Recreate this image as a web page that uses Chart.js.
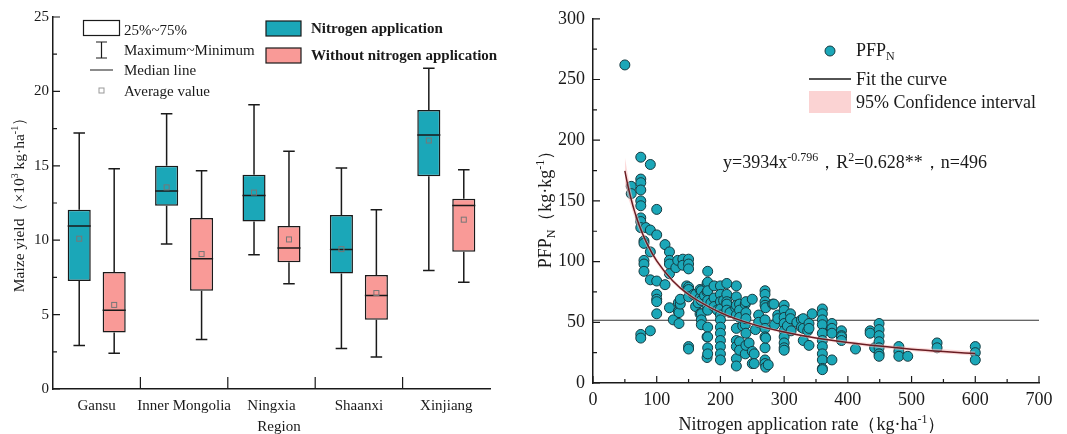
<!DOCTYPE html>
<html>
<head>
<meta charset="utf-8">
<script src="https://cdn.jsdelivr.net/npm/chart.js@4/dist/chart.umd.min.js"></script>
<style>
  html, body { margin: 0; padding: 0; background: #fff; }
  #wrap { position: relative; width: 1067px; height: 434px; overflow: hidden; }
  #boxCanvas { position: absolute; left: 0; top: 0; }
  #pfpCanvas { position: absolute; left: 530px; top: 0; }
</style>
</head>
<body>
<div id="wrap">
  <canvas id="boxCanvas" width="530" height="434"></canvas>
  <canvas id="pfpCanvas" width="537" height="434"></canvas>
</div>
<script>
// left panel: maize yield (x10^3 kg/ha) by region
const regions = ["Gansu", "Inner Mongolia", "Ningxia", "Shaanxi", "Xinjiang"];

// with nitrogen
const nMax  = [17.2, 18.5, 19.1, 14.85, 21.55];
const nQ3   = [12.05, 15.0, 14.4, 11.7, 18.75];
const nMed  = [10.95, 13.3, 13.0, 9.38, 17.07];
const nQ1   = [7.25, 12.32, 11.25, 7.77, 14.29];
const nMin  = [2.92, 9.74, 9.03, 2.73, 7.97];
const nMean = [10.1, 13.55, 13.2, 9.4, 16.7];

// without nitrogen
const ckMax  = [14.8, 14.67, 15.97, 12.05, 14.74];
const ckQ3   = [7.86, 11.49, 10.95, 7.66, 12.79];
const ckMed  = [5.29, 8.76, 9.48, 6.29, 12.34];
const ckQ1   = [3.79, 6.61, 8.51, 4.66, 9.23];
const ckMin  = [2.4, 3.32, 7.08, 2.15, 7.17];
const ckMean = [5.65, 9.07, 10.05, 6.45, 11.38];

// right panel: PFPN vs nitrogen rate
const nRate = [
  50, 60, 60,
  75, 75, 75, 75, 75, 75, 75, 75, 75, 75, 75,
  80, 80, 80, 80, 80, 83,
  90, 90, 90, 90, 90,
  100, 100, 100, 100, 100, 100, 100,
  113, 113, 120, 120, 120, 120, 120, 126, 130, 133, 134, 134, 135, 135, 137, 137, 141, 141, 147,
  150, 150, 150, 150, 150, 150, 150, 150,
  158, 161, 161, 165, 168, 168, 168, 170, 170, 170, 170, 170, 175,
  179, 179, 179, 179, 179,
  180, 180, 180, 180, 180, 180, 180, 180, 180, 185,
  190, 190, 190, 195,
  200, 200, 200, 200, 200, 200, 200, 200, 200, 200, 200, 200, 205,
  210, 210, 210, 210, 210, 215,
  224, 225, 225, 225, 225, 225, 225, 225, 225, 225,
  230, 230, 230, 230, 230, 235,
  239, 239, 239, 240, 240, 240, 240, 240, 245, 250, 250, 250, 253, 253, 255, 260, 260,
  270, 270, 270, 270, 270, 270, 270, 270, 270, 270, 271, 271, 271, 275, 282, 284, 285, 290, 290,
  300, 300, 300, 300, 300, 300, 300, 300, 300, 305, 310, 310, 311, 320,
  327, 327, 330, 330, 330, 337, 339, 339, 339, 344,
  360, 360, 360, 360, 360, 360, 360, 360, 360, 360, 360,
  374, 375, 375, 375, 375, 390, 390, 390, 390, 412, 435, 435, 442,
  449, 449, 449, 449, 449, 449, 449,
  480, 480, 480, 494, 540, 540, 600, 600, 600
];
const pfpN = [
  262, 162, 156,
  186, 168, 165, 159, 150, 146, 136, 133, 128, 40, 37,
  117, 115, 101, 98, 92, 128,
  180, 126, 108, 85, 43,
  143, 122, 84, 73, 69, 67, 57,
  114, 81, 108, 101, 98, 90, 62, 52, 95, 101, 66, 59, 58, 49, 65, 69, 102, 97, 80,
  102, 98, 94, 79, 77, 71, 30, 28,
  73, 73, 63, 66, 77, 70, 57, 76, 68, 57, 52, 48, 72,
  82, 75, 62, 38, 21,
  92, 83, 76, 68, 60, 46, 38, 29, 24, 66,
  80, 70, 63, 60,
  80, 73, 67, 61, 56, 52, 46, 41, 35, 30, 24, 19, 68,
  82, 73, 67, 65, 60, 58,
  62, 80, 71, 64, 56, 45, 35, 30, 20, 14,
  65, 60, 54, 34, 27, 47,
  65, 48, 24, 67, 58, 53, 41, 31, 33, 69, 26, 16, 24, 16, 44, 56, 50,
  76, 73, 67, 64, 52, 45, 38, 29, 19, 16, 62, 37, 13, 15, 65, 65, 48, 56, 53,
  64, 60, 54, 49, 43, 38, 33, 29, 27, 47, 57, 53, 43, 50,
  52, 46, 53, 45, 35, 43, 49, 45, 31, 57,
  61, 57, 52, 48, 41, 35, 30, 24, 19, 12, 11,
  45, 49, 45, 41, 19, 43, 39, 38, 35, 28, 43, 41, 29,
  49, 44, 39, 34, 29, 24, 22,
  30, 26, 22, 22, 33, 29, 30, 25, 19
];

// fitted curve y = 3934x^-0.796 read at these rates, with 95% band
const fitRate  = [50, 55, 60, 65, 70, 75, 85, 100, 125, 150, 200, 250, 300, 350, 400, 450, 500, 550, 600];
const fitPfp   = [174.8, 162.0, 151.2, 141.8, 133.7, 126.5, 114.6, 100.6, 84.3, 72.9, 58.0, 48.5, 42.0, 37.1, 33.4, 30.4, 27.9, 25.9, 24.2];
const ciUpper  = [186, 171, 158, 147.5, 138.5, 130.5, 117.5, 103, 86, 74.5, 59.3, 49.7, 43.2, 38.4, 34.8, 31.9, 29.5, 27.7, 26.0];
const ciLower  = [164, 153, 145, 136.5, 129, 122.5, 111.7, 98.3, 82.6, 71.4, 56.8, 47.3, 40.8, 35.8, 32.0, 28.9, 26.4, 24.2, 22.4];
const meanLine = 51.7;

const FONT = '"Liberation Serif", "Times New Roman", serif';
const TEAL = "#1ba7b8";
const PINK = "#f99a97";
const INK = "#1a1a1a";

// draw text with sub/superscript pieces, y is the visual middle
function drawRich(ctx, parts, x, y, size, align, angle, bold) {
  ctx.save();
  ctx.translate(x, y);
  ctx.rotate(angle || 0);
  const small = Math.round(size * 0.65);
  const w = (bold ? "bold " : "");
  let total = 0;
  parts.forEach(p => {
    ctx.font = w + (p.sup || p.sub ? small : size) + "px " + FONT;
    total += ctx.measureText(p.t).width;
  });
  let cx = align === "center" ? -total / 2 : (align === "right" ? -total : 0);
  const base = size * 0.33;
  ctx.fillStyle = INK;
  ctx.textAlign = "left";
  ctx.textBaseline = "alphabetic";
  parts.forEach(p => {
    ctx.font = w + (p.sup || p.sub ? small : size) + "px " + FONT;
    const dy = p.sup ? -size * 0.38 : (p.sub ? size * 0.22 : 0);
    ctx.fillText(p.t, cx, base + dy);
    cx += ctx.measureText(p.t).width;
  });
  ctx.restore();
}

// inward tick marks
function inTicks(chart, scale, values, len, vertical) {
  const ctx = chart.ctx;
  const a = chart.chartArea;
  ctx.save();
  ctx.strokeStyle = INK;
  ctx.lineWidth = 1.2;
  ctx.beginPath();
  values.forEach(v => {
    const p = scale.getPixelForValue(v);
    if (vertical) { ctx.moveTo(a.left, p); ctx.lineTo(a.left + len, p); }
    else { ctx.moveTo(p, a.bottom); ctx.lineTo(p, a.bottom - len); }
  });
  ctx.stroke();
  ctx.restore();
}

// ---------- left: box plot ----------
const boxStats = [
  { max: nMax, med: nMed, mean: nMean, min: nMin, q1: nQ1, q3: nQ3 },
  { max: ckMax, med: ckMed, mean: ckMean, min: ckMin, q1: ckQ1, q3: ckQ3 }
];

const boxExtras = {
  id: "boxExtras",
  afterDatasetsDraw(chart) {
    const ctx = chart.ctx;
    const y = chart.scales.y;
    ctx.save();
    boxStats.forEach((st, di) => {
      const meta = chart.getDatasetMeta(di);
      meta.data.forEach((bar, i) => {
        const x = bar.x, hw = bar.width / 2, cap = bar.width * 0.25;
        const yMax = y.getPixelForValue(st.max[i]);
        const yMin = y.getPixelForValue(st.min[i]);
        ctx.strokeStyle = INK;
        ctx.lineWidth = 1.5;
        ctx.beginPath();
        ctx.moveTo(x, yMax); ctx.lineTo(x, y.getPixelForValue(st.q3[i]));
        ctx.moveTo(x, y.getPixelForValue(st.q1[i])); ctx.lineTo(x, yMin);
        ctx.moveTo(x - cap, yMax); ctx.lineTo(x + cap, yMax);
        ctx.moveTo(x - cap, yMin); ctx.lineTo(x + cap, yMin);
        ctx.moveTo(x - hw, y.getPixelForValue(st.med[i])); ctx.lineTo(x + hw, y.getPixelForValue(st.med[i]));
        ctx.stroke();
        const my = y.getPixelForValue(st.mean[i]);
        ctx.strokeStyle = "#777";
        ctx.lineWidth = 1;
        ctx.strokeRect(x - 2.5, my - 2.5, 5, 5);
      });
    });
    ctx.restore();
  },
  afterDraw(chart) {
    const ctx = chart.ctx;
    const xs = chart.scales.x;
    inTicks(chart, chart.scales.y, [0, 5, 10, 15, 20, 25], 7, true);
    inTicks(chart, chart.scales.y, [2.5, 7.5, 12.5, 17.5, 22.5], 4, true);
    const bounds = [];
    for (let i = 0; i < regions.length - 1; i++) {
      bounds.push((xs.getPixelForTick(i) + xs.getPixelForTick(i + 1)) / 2);
    }
    ctx.save();
    ctx.strokeStyle = INK;
    ctx.lineWidth = 1.2;
    ctx.beginPath();
    bounds.forEach(b => { ctx.moveTo(b, chart.chartArea.bottom); ctx.lineTo(b, chart.chartArea.bottom - 12); });
    ctx.stroke();

    // legend
    ctx.lineWidth = 1.2;
    ctx.strokeStyle = INK;
    ctx.strokeRect(83.5, 20.5, 36, 15);
    ctx.beginPath();
    ctx.moveTo(101.5, 42); ctx.lineTo(101.5, 58);
    ctx.moveTo(96, 42); ctx.lineTo(107, 42);
    ctx.moveTo(96, 58); ctx.lineTo(107, 58);
    ctx.moveTo(90, 70); ctx.lineTo(113, 70);
    ctx.stroke();
    ctx.strokeStyle = "#999";
    ctx.lineWidth = 1;
    ctx.strokeRect(99, 88, 5, 5);
    ctx.fillStyle = TEAL;
    ctx.fillRect(266, 21, 35, 15);
    ctx.fillStyle = PINK;
    ctx.fillRect(266, 48, 35, 15);
    ctx.strokeStyle = INK;
    ctx.lineWidth = 1.2;
    ctx.strokeRect(266, 21, 35, 15);
    ctx.strokeRect(266, 48, 35, 15);
    ctx.restore();
    drawRich(ctx, [{ t: "25%~75%" }], 124, 30, 15, "left");
    drawRich(ctx, [{ t: "Maximum~Minimum" }], 124, 50, 15, "left");
    drawRich(ctx, [{ t: "Median line" }], 124, 70, 15, "left");
    drawRich(ctx, [{ t: "Average value" }], 124, 91, 15, "left");
    drawRich(ctx, [{ t: "Nitrogen application" }], 311, 28, 15, "left", 0, true);
    drawRich(ctx, [{ t: "Without nitrogen application" }], 311, 55, 15, "left", 0, true);

    // axis titles
    drawRich(ctx, [{ t: "Maize yield（×10" }, { t: "3", sup: 1 }, { t: " kg·ha" }, { t: "-1", sup: 1 }, { t: "）" }],
      19, 201, 15.5, "center", -Math.PI / 2);
    drawRich(ctx, [{ t: "Region" }], 279, 426, 15, "center");
  }
};

new Chart(document.getElementById("boxCanvas"), {
  type: "bar",
  data: {
    labels: regions,
    datasets: [
      { label: "Nitrogen application", data: nQ1.map((v, i) => [v, nQ3[i]]), backgroundColor: TEAL },
      { label: "Without nitrogen application", data: ckQ1.map((v, i) => [v, ckQ3[i]]), backgroundColor: PINK }
    ]
  },
  options: {
    responsive: false,
    devicePixelRatio: 1,
    animation: false,
    layout: { padding: { left: 0, top: 17, right: 40, bottom: 0 } },
    datasets: {
      bar: { borderColor: INK, borderWidth: 1.5, borderSkipped: false, categoryPercentage: 0.8, barPercentage: 0.66 }
    },
    plugins: { legend: { display: false }, tooltip: { enabled: false } },
    scales: {
      x: {
        grid: { display: false, drawTicks: false },
        border: { display: true, color: INK, width: 1.5 },
        ticks: { color: INK, font: { family: FONT, size: 15 }, padding: 8, maxRotation: 0, minRotation: 0, autoSkip: false },
        afterFit: s => { s.height = 45; }
      },
      y: {
        min: 0, max: 25,
        grid: { display: false, drawTicks: false },
        border: { display: true, color: INK, width: 1.5 },
        ticks: { stepSize: 5, color: INK, font: { family: FONT, size: 15 }, padding: 4 },
        afterFit: s => { s.width = 53; }
      }
    }
  },
  plugins: [boxExtras]
});

// ---------- right: PFPN scatter ----------
const pfpExtras = {
  id: "pfpExtras",
  afterDraw(chart) {
    const ctx = chart.ctx;
    inTicks(chart, chart.scales.y, [0, 50, 100, 150, 200, 250, 300], 7, true);
    inTicks(chart, chart.scales.y, [25, 75, 125, 175, 225, 275], 4, true);
    inTicks(chart, chart.scales.x, [0, 100, 200, 300, 400, 500, 600, 700], 7, false);
    inTicks(chart, chart.scales.x, [50, 150, 250, 350, 450, 550, 650], 4, false);

    // legend
    ctx.save();
    ctx.fillStyle = TEAL;
    ctx.strokeStyle = "#163a40";
    ctx.lineWidth = 1;
    ctx.beginPath();
    ctx.arc(300, 51, 5, 0, Math.PI * 2);
    ctx.fill();
    ctx.stroke();
    ctx.strokeStyle = INK;
    ctx.lineWidth = 1.3;
    ctx.beginPath();
    ctx.moveTo(279, 79); ctx.lineTo(321, 79);
    ctx.stroke();
    ctx.fillStyle = "rgba(250, 200, 200, 0.8)";
    ctx.fillRect(279, 91, 42, 22);
    ctx.restore();
    drawRich(ctx, [{ t: "PFP" }, { t: "N", sub: 1 }], 326, 50, 18, "left");
    drawRich(ctx, [{ t: "Fit the curve" }], 326, 79, 18, "left");
    drawRich(ctx, [{ t: "95% Confidence interval" }], 326, 102, 18, "left");
    drawRich(ctx, [{ t: "y=3934x" }, { t: "-0.796", sup: 1 }, { t: "，R" }, { t: "2", sup: 1 }, { t: "=0.628**，n=496" }],
      193, 162, 18, "left");

    // axis titles
    drawRich(ctx, [{ t: "PFP" }, { t: "N", sub: 1 }, { t: "（kg·kg" }, { t: "-1", sup: 1 }, { t: "）" }],
      15, 205, 18, "center", -Math.PI / 2);
    drawRich(ctx, [{ t: "Nitrogen application rate（kg·ha" }, { t: "-1", sup: 1 }, { t: "）" }],
      282, 424, 18, "center");
  }
};

const lineBase = { type: "line", pointRadius: 0, cubicInterpolationMode: "monotone" };

new Chart(document.getElementById("pfpCanvas"), {
  type: "scatter",
  data: {
    datasets: [
      Object.assign({}, lineBase, {
        label: "Fit the curve",
        data: fitRate.map((x, i) => ({ x: x, y: fitPfp[i] })),
        borderColor: "#6a1c22", borderWidth: 1.5, fill: false
      }),
      Object.assign({}, lineBase, {
        label: "95% upper",
        data: fitRate.map((x, i) => ({ x: x, y: ciUpper[i] })),
        borderWidth: 0, borderColor: "rgba(0,0,0,0)",
        backgroundColor: "rgba(250, 190, 190, 0.55)", fill: "+1"
      }),
      Object.assign({}, lineBase, {
        label: "95% lower",
        data: fitRate.map((x, i) => ({ x: x, y: ciLower[i] })),
        borderWidth: 0, borderColor: "rgba(0,0,0,0)", fill: false
      }),
      {
        label: "PFPN",
        data: nRate.map((x, i) => ({ x: x, y: pfpN[i] })),
        pointRadius: 5, pointBackgroundColor: TEAL, pointBorderColor: "#163a40", pointBorderWidth: 1
      },
      {
        type: "line",
        label: "mean",
        data: [{ x: 0, y: meanLine }, { x: 700, y: meanLine }],
        borderColor: "#333", borderWidth: 1.2, pointRadius: 0, fill: false
      }
    ]
  },
  options: {
    responsive: false,
    devicePixelRatio: 1,
    animation: false,
    layout: { padding: { left: 0, top: 16, right: 28, bottom: 0 } },
    plugins: { legend: { display: false }, tooltip: { enabled: false } },
    scales: {
      x: {
        type: "linear", min: 0, max: 700,
        grid: { display: false, drawTicks: false },
        border: { display: true, color: INK, width: 1.5 },
        ticks: { stepSize: 100, color: INK, font: { family: FONT, size: 18 }, padding: 6 },
        afterFit: s => { s.height = 51; }
      },
      y: {
        min: 0, max: 300,
        grid: { display: false, drawTicks: false },
        border: { display: true, color: INK, width: 1.5 },
        ticks: { stepSize: 50, color: INK, font: { family: FONT, size: 18 }, padding: 8 },
        afterFit: s => { s.width = 63; }
      }
    }
  },
  plugins: [pfpExtras]
});
</script>
</body>
</html>
